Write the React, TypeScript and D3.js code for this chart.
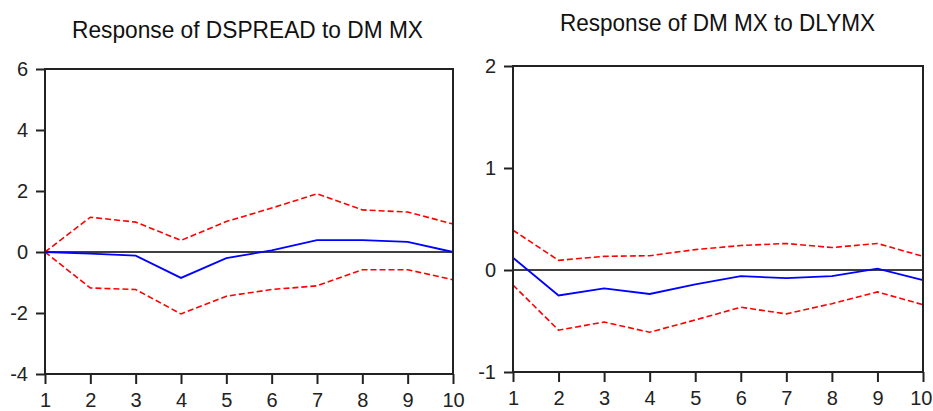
import React, { useEffect, useRef } from 'react';
import * as d3 from 'd3';

// periods on the x axis
const periods = [1, 2, 3, 4, 5, 6, 7, 8, 9, 10];

// Response of DSPREAD to DM MX
const spreadResp = [0, -0.05, -0.12, -0.85, -0.2, 0.05, 0.39, 0.39, 0.33, 0.0];
const spreadUpper = [0, 1.14, 0.98, 0.38, 1.0, 1.44, 1.91, 1.38, 1.31, 0.92];
const spreadLower = [0, -1.18, -1.23, -2.03, -1.45, -1.23, -1.11, -0.58, -0.58, -0.91];
const spreadTicks = [-4, -2, 0, 2, 4, 6];

// Response of DM MX to DLYMX
const mmxResp = [0.12, -0.25, -0.18, -0.235, -0.14, -0.06, -0.08, -0.06, 0.013, -0.1];
const mmxUpper = [0.39, 0.095, 0.134, 0.14, 0.2, 0.24, 0.26, 0.22, 0.26, 0.134];
const mmxLower = [-0.147, -0.59, -0.51, -0.61, -0.49, -0.365, -0.43, -0.33, -0.215, -0.34];
const mmxTicks = [-1, 0, 1, 2];

const FONT = '"Liberation Sans", Arial, sans-serif';

type Panel = {
  title: string;
  titleX: [number, number];
  titleY: number;
  x0: number;
  x1: number;
  y0: number;
  y1: number;
  domain: [number, number];
  ticks: number[];
  resp: number[];
  upper: number[];
  lower: number[];
};

const panels: Panel[] = [
  {
    title: 'Response of DSPREAD to DM MX',
    titleX: [72, 423],
    titleY: 38,
    x0: 45, x1: 453, y0: 69, y1: 374,
    domain: [-4, 6],
    ticks: spreadTicks,
    resp: spreadResp, upper: spreadUpper, lower: spreadLower,
  },
  {
    title: 'Response of DM MX to DLYMX',
    titleX: [560, 875],
    titleY: 31,
    x0: 513, x1: 923, y0: 66, y1: 372,
    domain: [-1, 2],
    ticks: mmxTicks,
    resp: mmxResp, upper: mmxUpper, lower: mmxLower,
  },
];

export default function App() {
  const ref = useRef<SVGSVGElement>(null);

  useEffect(() => {
    const svg = d3.select(ref.current);
    svg.selectAll('*').remove();

    panels.forEach((p) => {
      const x = d3.scaleLinear().domain([1, 10]).range([p.x0, p.x1]);
      const y = d3.scaleLinear().domain(p.domain).range([p.y1, p.y0]);
      const g = svg.append('g');

      // title
      g.append('text')
        .attr('x', p.titleX[0])
        .attr('y', p.titleY)
        .attr('textLength', p.titleX[1] - p.titleX[0])
        .attr('lengthAdjust', 'spacingAndGlyphs')
        .attr('font-family', FONT)
        .attr('font-size', 24)
        .attr('fill', '#111')
        .text(p.title);

      // zero line
      g.append('line')
        .attr('x1', p.x0).attr('x2', p.x1)
        .attr('y1', y(0)).attr('y2', y(0))
        .attr('stroke', '#000').attr('stroke-width', 1.5);

      const line = d3.line<number>()
        .x((_, i) => x(periods[i]))
        .y((d) => y(d));

      [p.upper, p.lower].forEach((band) => {
        g.append('path')
          .attr('d', line(band))
          .attr('fill', 'none')
          .attr('stroke', '#ff0000')
          .attr('stroke-width', 1.6)
          .attr('stroke-dasharray', '6,3');
      });

      g.append('path')
        .attr('d', line(p.resp))
        .attr('fill', 'none')
        .attr('stroke', '#0000ff')
        .attr('stroke-width', 1.8);

      // frame
      g.append('rect')
        .attr('x', p.x0).attr('y', p.y0)
        .attr('width', p.x1 - p.x0).attr('height', p.y1 - p.y0)
        .attr('fill', 'none')
        .attr('stroke', '#222').attr('stroke-width', 2);

      const fmt = (d: d3.NumberValue) => String(d);

      // y axis
      const ya = g.append('g')
        .attr('transform', `translate(${p.x0},0)`)
        .call(d3.axisLeft(y).tickValues(p.ticks).tickSize(9).tickPadding(8).tickFormat(fmt));
      ya.select('.domain').remove();
      ya.selectAll('line').attr('stroke', '#222').attr('stroke-width', 2);
      ya.selectAll('text')
        .attr('font-family', FONT)
        .attr('font-size', 20)
        .attr('fill', '#222');

      // x axis
      const xa = g.append('g')
        .attr('transform', `translate(0,${p.y1})`)
        .call(d3.axisBottom(x).tickValues(periods).tickSize(10).tickPadding(9).tickFormat(fmt));
      xa.select('.domain').remove();
      xa.selectAll('line').attr('stroke', '#222').attr('stroke-width', 2);
      xa.selectAll('text')
        .attr('font-family', FONT)
        .attr('font-size', 20)
        .attr('fill', '#222');
      // keep the last label inside the picture
      xa.selectAll<SVGTextElement, number>('text')
        .filter((d) => d === 10 && p.x1 > 900)
        .attr('text-anchor', 'end')
        .attr('x', 932 - p.x1);
    });
  }, []);

  return (
    <svg
      ref={ref}
      width={933}
      height={411}
      style={{ position: 'absolute', left: 0, top: 0, background: '#fff' }}
    />
  );
}
